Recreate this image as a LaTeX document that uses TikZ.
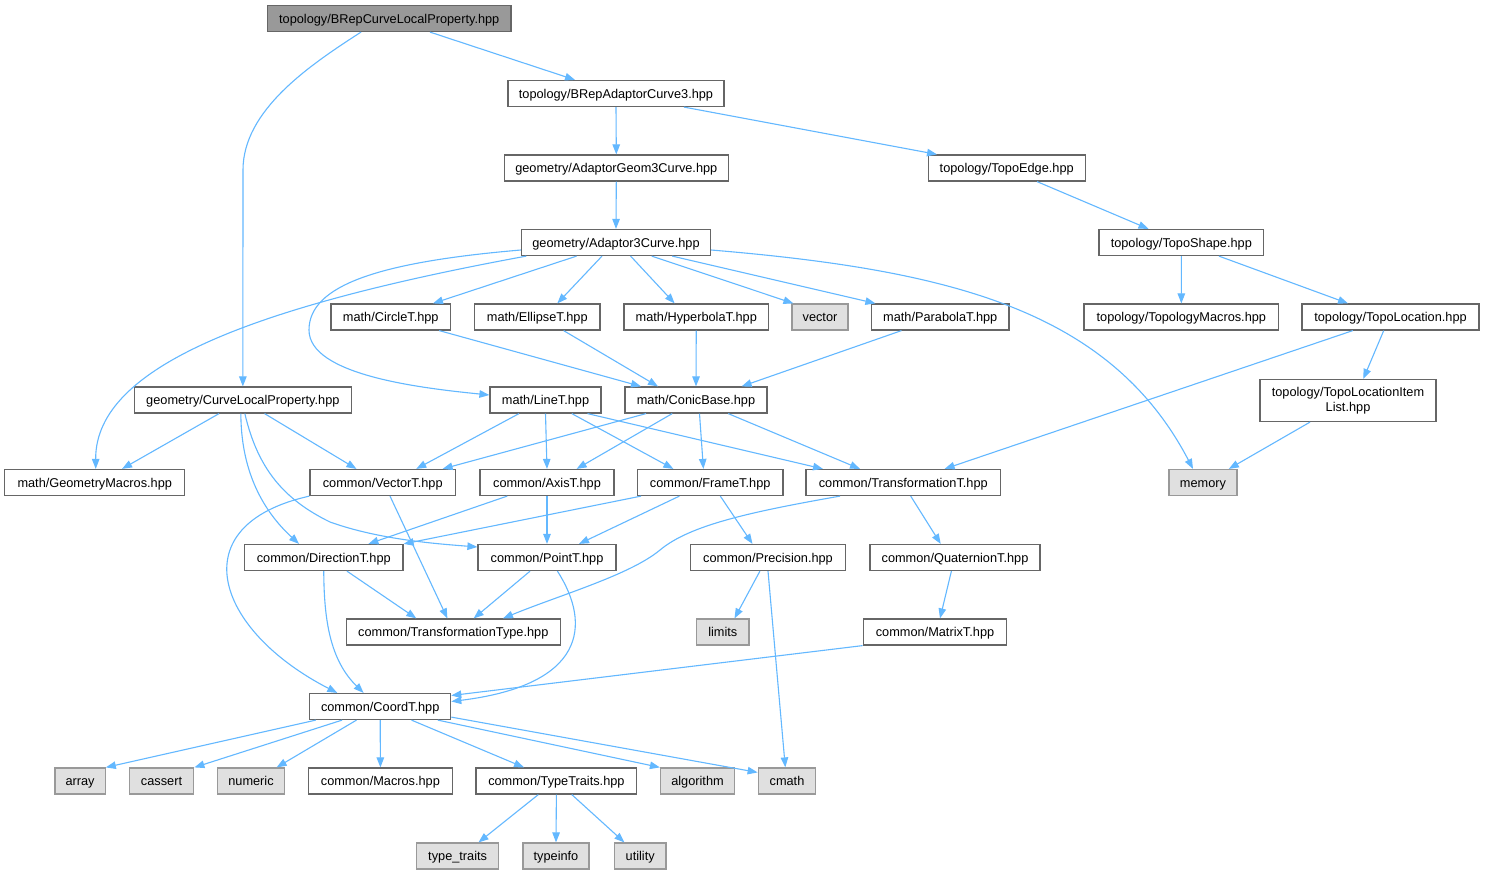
\documentclass[tikz,border=0pt]{standalone}
\usepackage{fontspec}
\setmainfont{Liberation Sans}
\usetikzlibrary{arrows.meta}
\definecolor{eb}{HTML}{63B8FF}
\definecolor{cforty}{HTML}{666666}
\definecolor{csixty}{HTML}{999999}
\definecolor{cext}{HTML}{E0E0E0}
\tikzset{
  nbase/.style={draw=cforty, line width=1.2pt, fill=white, rectangle, minimum height=26pt,
    inner xsep=0pt, inner ysep=0pt, font=\fontsize{12.75}{15.5}\selectfont, text=black},
  nb/.style={nbase, text height=9.6pt, text depth=0.5pt},
  rootb/.style={nb, fill=csixty},
  extb/.style={nb, draw=csixty, fill=cext},
  conn/.style={draw=eb, line width=1.1pt, -{Triangle[length=10pt,width=7.5pt]}}
}
\begin{document}
\begin{tikzpicture}[x=1pt,y=-1pt]
\useasboundingbox (0,0) rectangle (1485,875);
\fill[white] (0,0) rectangle (1485,875);
% nodes
\node[rootb, minimum width=243.5pt] (root) at (389.25,18.5) {topology/BRepCurveLocalProperty.hpp};
\node[nb, minimum width=216pt] (bac3) at (616,93.5) {topology/BRepAdaptorCurve3.hpp};
\node[nb, minimum width=224pt] (ag3c) at (616.3,168) {geometry/AdaptorGeom3Curve.hpp};
\node[nb, minimum width=157pt] (tedge) at (1006.7,168) {topology/TopoEdge.hpp};
\node[nb, minimum width=189pt] (a3c) at (616,242.5) {geometry/Adaptor3Curve.hpp};
\node[nb, minimum width=164.5pt] (tshape) at (1181.3,242.5) {topology/TopoShape.hpp};
\node[nb, minimum width=119.5pt] (circle) at (390.75,317) {math/CircleT.hpp};
\node[nb, minimum width=125.4pt] (ellipse) at (537.3,317) {math/EllipseT.hpp};
\node[nb, minimum width=144.5pt] (hyper) at (696.25,317) {math/HyperbolaT.hpp};
\node[extb, minimum width=56pt] (vector) at (820,317) {vector};
\node[nb, minimum width=137.3pt] (parab) at (940.25,317) {math/ParabolaT.hpp};
\node[nb, minimum width=194.7pt] (tmacros) at (1181.35,317) {topology/TopologyMacros.hpp};
\node[nb, minimum width=177pt] (tloc) at (1390.5,317) {topology/TopoLocation.hpp};
\node[nb, minimum width=216.7pt] (clp) at (242.85,400) {geometry/CurveLocalProperty.hpp};
\node[nb, minimum width=111pt] (line) at (545.5,400) {math/LineT.hpp};
\node[nb, minimum width=142pt] (conic) at (696,400) {math/ConicBase.hpp};
\node[nbase, minimum width=176pt, minimum height=42pt, align=center] (tlocil) at (1348,400.5) {topology/TopoLocationItem\\List.hpp};
\node[nb, minimum width=180pt] (gmacros) at (94.75,482.5) {math/GeometryMacros.hpp};
\node[nb, minimum width=145.5pt] (vecT) at (382.75,482.5) {common/VectorT.hpp};
\node[nb, minimum width=134pt] (axis) at (547,482.5) {common/AxisT.hpp};
\node[nb, minimum width=145.5pt] (frame) at (710.2,482.5) {common/FrameT.hpp};
\node[nb, minimum width=194.6pt] (transT) at (903.3,482.5) {common/TransformationT.hpp};
\node[extb, minimum width=68pt] (memory) at (1203,482.5) {memory};
\node[nb, minimum width=158.5pt] (dirT) at (323.75,557.5) {common/DirectionT.hpp};
\node[nb, minimum width=138pt] (pointT) at (547,557.5) {common/PointT.hpp};
\node[nb, minimum width=155.5pt] (prec) at (768,557.5) {common/Precision.hpp};
\node[nb, minimum width=170pt] (quat) at (955,557.5) {common/QuaternionT.hpp};
\node[nb, minimum width=214pt] (ttype) at (453.3,632) {common/TransformationType.hpp};
\node[extb, minimum width=52.5pt] (limits) at (722.8,632) {limits};
\node[nb, minimum width=143.5pt] (matrix) at (935,632) {common/MatrixT.hpp};
\node[nb, minimum width=141pt] (coord) at (380.2,706.5) {common/CoordT.hpp};
\node[extb, minimum width=50.3pt] (array) at (80.1,781) {array};
\node[extb, minimum width=64.6pt] (cassert) at (161.5,781) {cassert};
\node[extb, minimum width=67.5pt] (numeric) at (251,781) {numeric};
\node[nb, minimum width=143.6pt] (macros) at (380.4,781) {common/Macros.hpp};
\node[nb, minimum width=160.8pt] (ttraits) at (556.4,781) {common/TypeTraits.hpp};
\node[extb, minimum width=74pt] (algo) at (697.5,781) {algorithm};
\node[extb, minimum width=57.6pt] (cmath) at (787,781) {cmath};
\node[extb, minimum width=82pt] (typetr) at (457.65,856) {type\_traits};
\node[extb, minimum width=66pt] (typeinfo) at (556,856) {typeinfo};
\node[extb, minimum width=51.6pt] (utility) at (640.2,856) {utility};
% edges
\draw[conn] ([xshift=40.75pt]root.south) -- ([xshift=-41pt]bac3.north);
\draw[conn] ([xshift=-28.25pt]root.south) .. controls (310,65) and (243,110) .. (243,170) -- (clp.north);
\draw[conn] (bac3.south) -- (ag3c.north);
\draw[conn] ([xshift=68pt]bac3.south) -- ([xshift=-69.7pt]tedge.north);
\draw[conn] (ag3c.south) -- (a3c.north);
\draw[conn] ([xshift=30.3pt]tedge.south) -- ([xshift=-32.8pt]tshape.north);
\draw[conn] ([xshift=-89.7pt]a3c.south) .. controls (260,305) and (95,365) .. ([xshift=1pt]gmacros.north);
\draw[conn] ([yshift=-7.5pt]a3c.west) .. controls (380,262) and (309,285) .. (309,330) .. controls (309,375) and (420,388) .. ([yshift=5pt]line.west);
\draw[conn] ([xshift=-39.4pt]a3c.south) -- ([xshift=42.25pt]circle.north);
\draw[conn] ([xshift=-14pt]a3c.south) -- ([xshift=20pt]ellipse.north);
\draw[conn] ([xshift=14.6pt]a3c.south) -- ([xshift=-21.6pt]hyper.north);
\draw[conn] ([xshift=35.7pt]a3c.south) -- ([xshift=2pt]vector.north west);
\draw[conn] ([xshift=56.2pt]a3c.south) -- ([xshift=-64.85pt]parab.north);
\draw[conn] ([yshift=-7.5pt]a3c.east) .. controls (950,270) and (1110,310) .. ([xshift=-10pt]memory.north);
\draw[conn] (tshape.south) -- (tmacros.north);
\draw[conn] ([xshift=37.6pt]tshape.south) -- ([xshift=-42.5pt]tloc.north);
\draw[conn] ([xshift=48.45pt]circle.south) -- ([xshift=-55pt]conic.north);
\draw[conn] ([xshift=26.3pt]ellipse.south) -- ([xshift=-38pt]conic.north);
\draw[conn] (hyper.south) -- (conic.north);
\draw[conn] ([xshift=-38.75pt]parab.south) -- ([xshift=45.6pt]conic.north);
\draw[conn] ([xshift=-37.7pt]tloc.south) -- ([xshift=41.3pt]transT.north);
\draw[conn] ([xshift=-6.8pt]tloc.south) -- ([xshift=15.3pt]tlocil.north);
\draw[conn] ([xshift=-38pt]tlocil.south) -- ([xshift=25.8pt]memory.north);
\draw[conn] ([xshift=-23.8pt]clp.south) -- ([xshift=27.3pt]gmacros.north);
\draw[conn] ([xshift=21.7pt]clp.south) -- ([xshift=-26.3pt]vecT.north);
\draw[conn] ([xshift=-2pt]clp.south) .. controls (241,470) and (262,510) .. ([xshift=-24.7pt]dirT.north);
\draw[conn] ([xshift=2pt]clp.south) .. controls (258,470) and (285,500) .. (330,522) .. controls (380,540) and (440,544) .. ([yshift=10.5pt]pointT.west);
\draw[conn] ([xshift=-26.5pt]line.south) -- ([xshift=33.5pt]vecT.north);
\draw[conn] (line.south) -- (axis.north);
\draw[conn] ([xshift=26.3pt]line.south) -- ([xshift=-36.8pt]frame.north);
\draw[conn] ([xshift=42pt]line.south) -- ([xshift=-80.3pt]transT.north);
\draw[conn] ([xshift=-50pt]conic.south) -- ([xshift=59.85pt]vecT.north);
\draw[conn] ([xshift=-23.8pt]conic.south) -- ([xshift=29.6pt]axis.north);
\draw[conn] ([xshift=3.5pt]conic.south) -- ([xshift=-6.8pt]frame.north);
\draw[conn] ([xshift=32.2pt]conic.south) -- ([xshift=-43.3pt]transT.north);
\draw[conn] (vecT.south west) .. controls (180,525) and (215,630) .. ([xshift=-42.9pt]coord.north);
\draw[conn] ([xshift=7.25pt]vecT.south) -- ([xshift=-5.9pt]ttype.north);
\draw[conn] ([xshift=-39.8pt]axis.south) -- ([xshift=44.65pt]dirT.north);
\draw[conn] (axis.south) -- (pointT.north);
\draw[conn] ([xshift=-69.1pt]frame.south) -- (dirT.north east);
\draw[conn] ([xshift=-30.8pt]frame.south) -- ([xshift=32pt]pointT.north);
\draw[conn] ([xshift=10.1pt]frame.south) -- ([xshift=-15.5pt]prec.north);
\draw[conn] ([xshift=-63.3pt]transT.south) .. controls (750,512) and (690,525) .. (660,550) .. controls (630,575) and (560,595) .. ([xshift=49.7pt]ttype.north);
\draw[conn] ([xshift=7.4pt]transT.south) -- ([xshift=-14.3pt]quat.north);
\draw[conn] ([xshift=23.15pt]dirT.south) -- ([xshift=-37pt]ttype.north);
\draw[conn] (dirT.south) .. controls (324,620) and (330,660) .. ([xshift=-16.6pt]coord.north);
\draw[conn] ([xshift=-16.9pt]pointT.south) -- ([xshift=20.4pt]ttype.north);
\draw[conn] ([xshift=10.4pt]pointT.south) .. controls (592,625) and (585,685) .. ([yshift=5pt]coord.east);
\draw[conn] ([xshift=-8.1pt]prec.south) -- ([xshift=11.7pt]limits.north);
\draw[conn] (prec.south) -- ([xshift=-1.7pt]cmath.north);
\draw[conn] ([xshift=-3.6pt]quat.south) -- ([xshift=5pt]matrix.north);
\draw[conn] (matrix.south west) -- ([yshift=11pt]coord.east);
\draw[conn] ([xshift=-64.4pt]coord.south) -- (array.north east);
\draw[conn] ([xshift=-38.1pt]coord.south) -- (cassert.north east);
\draw[conn] ([xshift=-23.7pt]coord.south) -- ([xshift=25.6pt]numeric.north);
\draw[conn] (coord.south) -- (macros.north);
\draw[conn] ([xshift=31.3pt]coord.south) -- ([xshift=-32.4pt]ttraits.north);
\draw[conn] ([xshift=57.6pt]coord.south) -- (algo.north west);
\draw[conn] ([yshift=3pt]coord.south east) -- ([yshift=-5pt]cmath.north west);
\draw[conn] ([xshift=-18.1pt]ttraits.south) -- ([xshift=20.85pt]typetr.north);
\draw[conn] (ttraits.south) -- (typeinfo.north);
\draw[conn] ([xshift=15.4pt]ttraits.south) -- ([xshift=-15.8pt]utility.north);
\end{tikzpicture}
\end{document}
